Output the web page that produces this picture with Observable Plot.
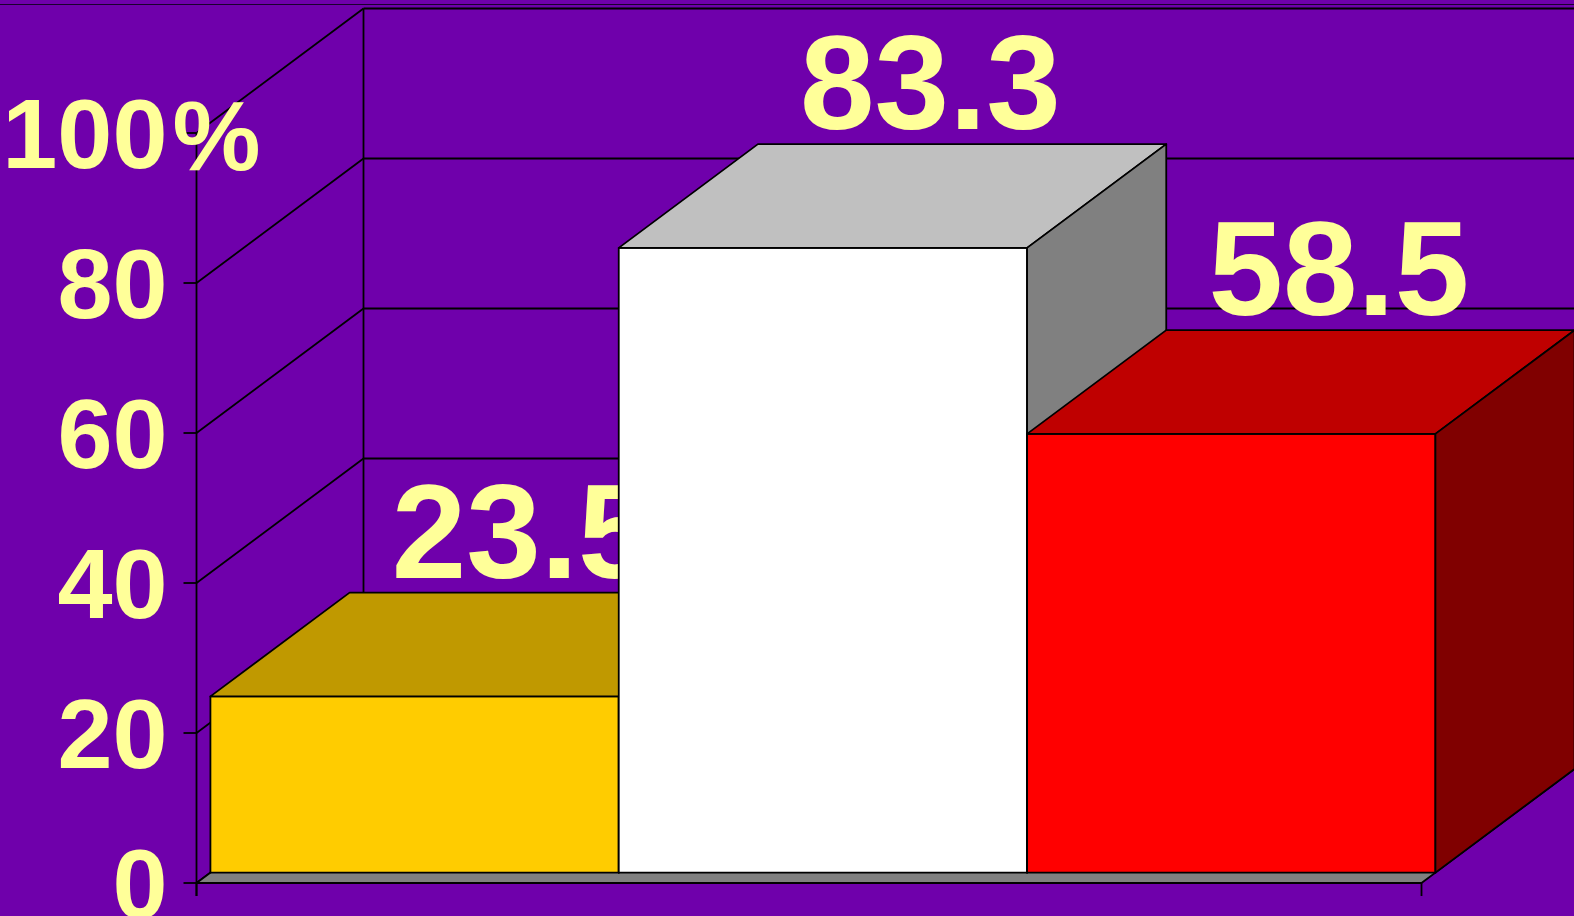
<!DOCTYPE html>
<html><head><meta charset="utf-8">
<script src="https://cdn.jsdelivr.net/npm/d3@7"></script>
<script src="https://cdn.jsdelivr.net/npm/@observablehq/plot@0.6"></script>
<style>
html,body{margin:0;padding:0;background:#6F00AB;overflow:hidden}
#chart{position:relative;width:1574px;height:916px}
#chart svg{display:block;background:#6F00AB}
#frame{position:absolute;left:0;top:4px;width:1574px;height:0;border-top:1.5px solid #1a0030}
</style></head><body><div id="chart"><div id="frame"></div></div>
<script>
// ---- data ----
const categories = ["Group 1", "Group 2", "Group 3"];
const values = [23.5, 83.3, 58.5];
const valueLabels = ["23.5", "83.3", "58.5"];
const yTicks = [0, 20, 40, 60, 80, 100];
const yTickLabels = ["0", "20", "40", "60", "80", "100"];
const ySuffix = "%";

// ---- styles ----
const palette = {
  front: ["#FFCC00", "#FFFFFF", "#FF0000"],
  top:   ["#C09900", "#C0C0C0", "#BF0000"],
  side:  ["#997A00", "#808080", "#800000"]
};
const textColor = "#FFFF99";
const font = "'Liberation Sans', Arial, Helvetica, sans-serif";

// ---- layout ----
const W = 1574, H = 916;
const xRange = [196, 1421], yRange = [882.5, 132.5];
const pxPerU = (xRange[1] - xRange[0]) / categories.length;
const pxPerV = (yRange[0] - yRange[1]) / 100;
const depthPx = [167, -124.5];
const du = depthPx[0] / pxPerU, dv = -depthPx[1] / pxPerV;
const xEdge = (W - xRange[0]) / pxPerU;
const tickU = 13 / pxPerU, tickV = 13 / pxPerV;
const d0 = 1 / 12, d1 = 11 / 12;

const line = {stroke: "#000", strokeWidth: 1.8};
const poly = (pts, fill) => Plot.line([...pts, pts[0]].map(([x, y]) => ({x, y})),
  {x: "x", y: "y", fill, ...line, strokeLinejoin: "round"});

const barMarks = [];
values.forEach((v, i) => {
  const x0 = i, x1 = i + 1;
  const a0 = du * d0, b0 = dv * d0, a1 = du * d1, b1 = dv * d1;
  barMarks.push(poly([[x0 + a0, b0], [x1 + a0, b0], [x1 + a0, v + b0], [x0 + a0, v + b0]], palette.front[i]));
  barMarks.push(poly([[x0 + a0, v + b0], [x1 + a0, v + b0], [x1 + a1, v + b1], [x0 + a1, v + b1]], palette.top[i]));
  barMarks.push(poly([[x1 + a0, b0], [x1 + a1, b1], [x1 + a1, v + b1], [x1 + a0, v + b0]], palette.side[i]));
});

const n = categories.length;
const chart = Plot.plot({
  width: W, height: H, margin: 0,
  style: {background: "#6F00AB", fontFamily: font, overflow: "hidden"},
  x: {type: "linear", domain: [0, n], range: xRange, axis: null},
  y: {type: "linear", domain: [0, 100], range: yRange, axis: null},
  marks: [
    // back wall grid
    Plot.link(yTicks, {x1: du, y1: d => d + dv, x2: xEdge, y2: d => d + dv, ...line}),
    Plot.link([0], {x1: du, y1: dv, x2: du, y2: 100 + dv, ...line}),
    // side wall diagonals
    Plot.link(yTicks, {x1: 0, y1: d => d, x2: du, y2: d => d + dv, ...line}),
    // floor
    poly([[0, 0], [n, 0], [n + du, dv], [du, dv]], "#808080"),
    // value axis line and ticks
    Plot.link([0], {x1: 0, y1: -tickV, x2: 0, y2: 100, ...line}),
    Plot.link(yTicks, {x1: -tickU, y1: d => d, x2: 0, y2: d => d, ...line}),
    // category axis end ticks
    Plot.link([0, n], {x1: d => d, y1: 0, x2: d => d, y2: -tickV, ...line}),
    // value labels (behind bars)
    Plot.text(values, {
      x: (d, i) => i + 0.5 + du / 2, y: d => d + dv * d1,
      text: (d, i) => valueLabels[i], dx: 38, dy: -58,
      fontSize: 134, fontWeight: "bold", fill: textColor, fontFamily: font
    }),
    ...barMarks,
    // value axis labels
    Plot.text(yTicks, {
      x: 0, y: d => d, text: (d, i) => yTickLabels[i], dx: -29, dy: 3,
      textAnchor: "end", fontSize: 99, fontWeight: "bold", fill: textColor, fontFamily: font
    }),
    Plot.text([yTicks[yTicks.length - 1]], {
      x: 0, y: d => d, text: () => ySuffix, dx: -24, dy: 5,
      textAnchor: "start", fontSize: 99, fontWeight: "bold", fill: textColor, fontFamily: font
    })
  ]
});
document.getElementById("chart").appendChild(chart);
</script></body></html>
